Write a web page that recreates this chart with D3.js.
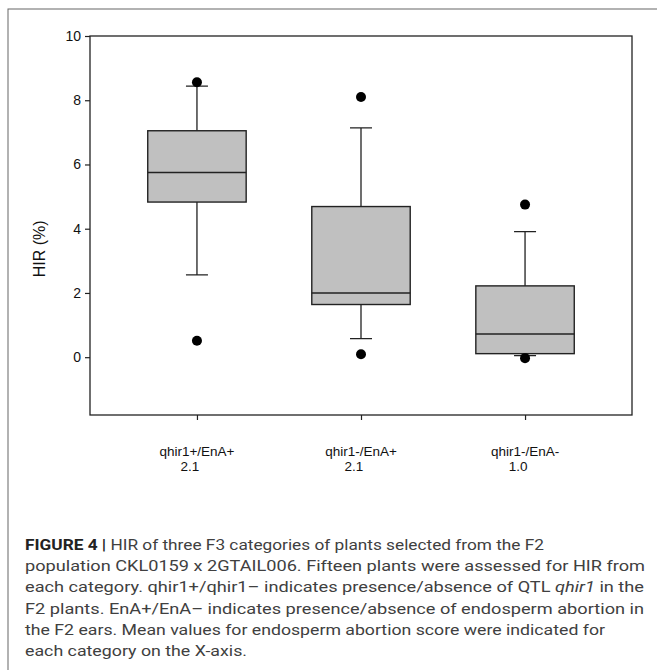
<!DOCTYPE html>
<html>
<head>
<meta charset="utf-8">
<script src="https://cdn.jsdelivr.net/npm/d3@7"></script>
<style>
  body { margin: 0; background: #fff; }
  svg { display: block; }
</style>
</head>
<body>
<svg id="chart"></svg>
<script>
// box plot values (HIR %)
const categories = ["qhir1+/EnA+", "qhir1-/EnA+", "qhir1-/EnA-"];
const scores = ["2.1", "2.1", "1.0"];
const q1 = [4.83, 1.64, 0.11];
const median = [5.75, 2.0, 0.72];
const q3 = [7.05, 4.69, 2.22];
const whiskerLow = [2.56, 0.58, 0.05];
const whiskerHigh = [8.44, 7.14, 3.91];
const outliers = [[0.51, 8.56], [0.09, 8.10], [-0.03, 4.75]];
const yTicks = [0, 2, 4, 6, 8, 10];

const W = 657, H = 670;
const svg = d3.select("#chart").attr("width", W).attr("height", H);

// figure frame (top + left edges visible)
svg.append("rect")
  .attr("x", 8).attr("y", 9)
  .attr("width", 700).attr("height", 700)
  .attr("fill", "none")
  .attr("stroke", "#666")
  .attr("stroke-width", 1);

const plot = { left: 90, right: 632, top: 36, bottom: 415 };

const x = d3.scalePoint()
  .domain(categories)
  .range([plot.left, plot.right])
  .padding(0.652);

const y = d3.scaleLinear()
  .domain([-1.8, 10])
  .range([plot.bottom, plot.top]);

const boxW = x.step() * 0.6;
const capW = 22;

const rows = categories.map((c, i) => ({
  cat: c, score: scores[i], q1: q1[i], med: median[i], q3: q3[i],
  lo: whiskerLow[i], hi: whiskerHigh[i], out: outliers[i]
}));

const g = svg.append("g");

// whiskers
g.selectAll(".whisker")
  .data(rows)
  .enter()
  .append("path")
  .attr("class", "whisker")
  .attr("fill", "none")
  .attr("stroke", "#222")
  .attr("stroke-width", 1.3)
  .attr("d", d => {
    const cx = x(d.cat);
    return `M${cx},${y(d.q3)}V${y(d.hi)}M${cx - capW / 2},${y(d.hi)}H${cx + capW / 2}` +
      `M${cx},${y(d.q1)}V${y(d.lo)}M${cx - capW / 2},${y(d.lo)}H${cx + capW / 2}`;
  });

// boxes
g.selectAll(".box")
  .data(rows)
  .enter()
  .append("rect")
  .attr("class", "box")
  .attr("x", d => x(d.cat) - boxW / 2)
  .attr("y", d => y(d.q3))
  .attr("width", boxW)
  .attr("height", d => y(d.q1) - y(d.q3))
  .attr("fill", "#c0c0c0")
  .attr("stroke", "#222")
  .attr("stroke-width", 1.4);

// medians
g.selectAll(".median")
  .data(rows)
  .enter()
  .append("line")
  .attr("x1", d => x(d.cat) - boxW / 2)
  .attr("x2", d => x(d.cat) + boxW / 2)
  .attr("y1", d => y(d.med))
  .attr("y2", d => y(d.med))
  .attr("stroke", "#222")
  .attr("stroke-width", 1.6);

// outliers
rows.forEach(d => {
  g.selectAll(null)
    .data(d.out)
    .enter()
    .append("circle")
    .attr("cx", x(d.cat))
    .attr("cy", v => y(v))
    .attr("r", 5)
    .attr("fill", "#000");
});

// plot frame
svg.append("rect")
  .attr("x", plot.left).attr("y", plot.top)
  .attr("width", plot.right - plot.left)
  .attr("height", plot.bottom - plot.top)
  .attr("fill", "none")
  .attr("stroke", "#222")
  .attr("stroke-width", 1.3);

// y axis
const yAxis = svg.append("g")
  .attr("transform", `translate(${plot.left},0)`)
  .call(d3.axisLeft(y).tickValues(yTicks).tickSize(5).tickPadding(4));
yAxis.select(".domain").remove();
yAxis.selectAll("line").attr("stroke", "#222").attr("stroke-width", 1.2);
yAxis.selectAll("text")
  .attr("font-family", "Liberation Sans, Arial, sans-serif")
  .attr("font-size", 14)
  .attr("fill", "#111");

// x axis ticks only
const xAxis = svg.append("g")
  .attr("transform", `translate(0,${plot.bottom})`)
  .call(d3.axisBottom(x).tickSize(5).tickFormat(""));
xAxis.select(".domain").remove();
xAxis.selectAll("line").attr("stroke", "#222").attr("stroke-width", 1.2);

// two-line category labels
const xl = svg.append("g")
  .attr("font-family", "Liberation Sans, Arial, sans-serif")
  .attr("font-size", 13.5)
  .attr("fill", "#111")
  .attr("text-anchor", "middle");
xl.selectAll(".cat")
  .data(rows)
  .enter()
  .append("text")
  .attr("x", d => x(d.cat))
  .attr("y", 456)
  .text(d => d.cat);
xl.selectAll(".score")
  .data(rows)
  .enter()
  .append("text")
  .attr("x", d => x(d.cat) - 7)
  .attr("y", 471)
  .text(d => d.score);

// y title
svg.append("text")
  .attr("transform", `translate(45,${(y(4) + y(2)) / 2 - 12}) rotate(-90)`)
  .attr("text-anchor", "middle")
  .attr("font-family", "Liberation Sans, Arial, sans-serif")
  .attr("font-size", 16)
  .attr("fill", "#111")
  .text("HIR (%)");

// caption
const captionLines = [
  [["FIGURE 4 | ", "bold"], ["HIR of three F3 categories of plants selected from the F2", ""]],
  [["population CKL0159 x 2GTAIL006. Fifteen plants were assessed for HIR from", ""]],
  [["each category. qhir1+/qhir1\u2013 indicates presence/absence of QTL ", ""], ["qhir1", "italic"], [" in the", ""]],
  [["F2 plants. EnA+/EnA\u2013 indicates presence/absence of endosperm abortion in", ""]],
  [["the F2 ears. Mean values for endosperm abortion score were indicated for", ""]],
  [["each category on the X-axis.", ""]]
];
const captionWidths = [519, 620, 619, 619, 580, 222];

const cap = svg.append("g")
  .attr("font-family", "Roboto, Liberation Sans, sans-serif")
  .attr("font-size", 15)
  .attr("fill", "#404040");
captionLines.forEach((parts, i) => {
  const t = cap.append("text")
    .attr("x", 25)
    .attr("y", 550 + i * 21.2)
    .attr("textLength", captionWidths[i])
    .attr("lengthAdjust", "spacingAndGlyphs");
  parts.forEach(([s, style]) => {
    const sp = t.append("tspan").text(s);
    if (style === "bold") sp.attr("font-weight", "bold").attr("fill", "#222");
    if (style === "italic") sp.attr("font-style", "italic");
  });
});
</script>
</body>
</html>
